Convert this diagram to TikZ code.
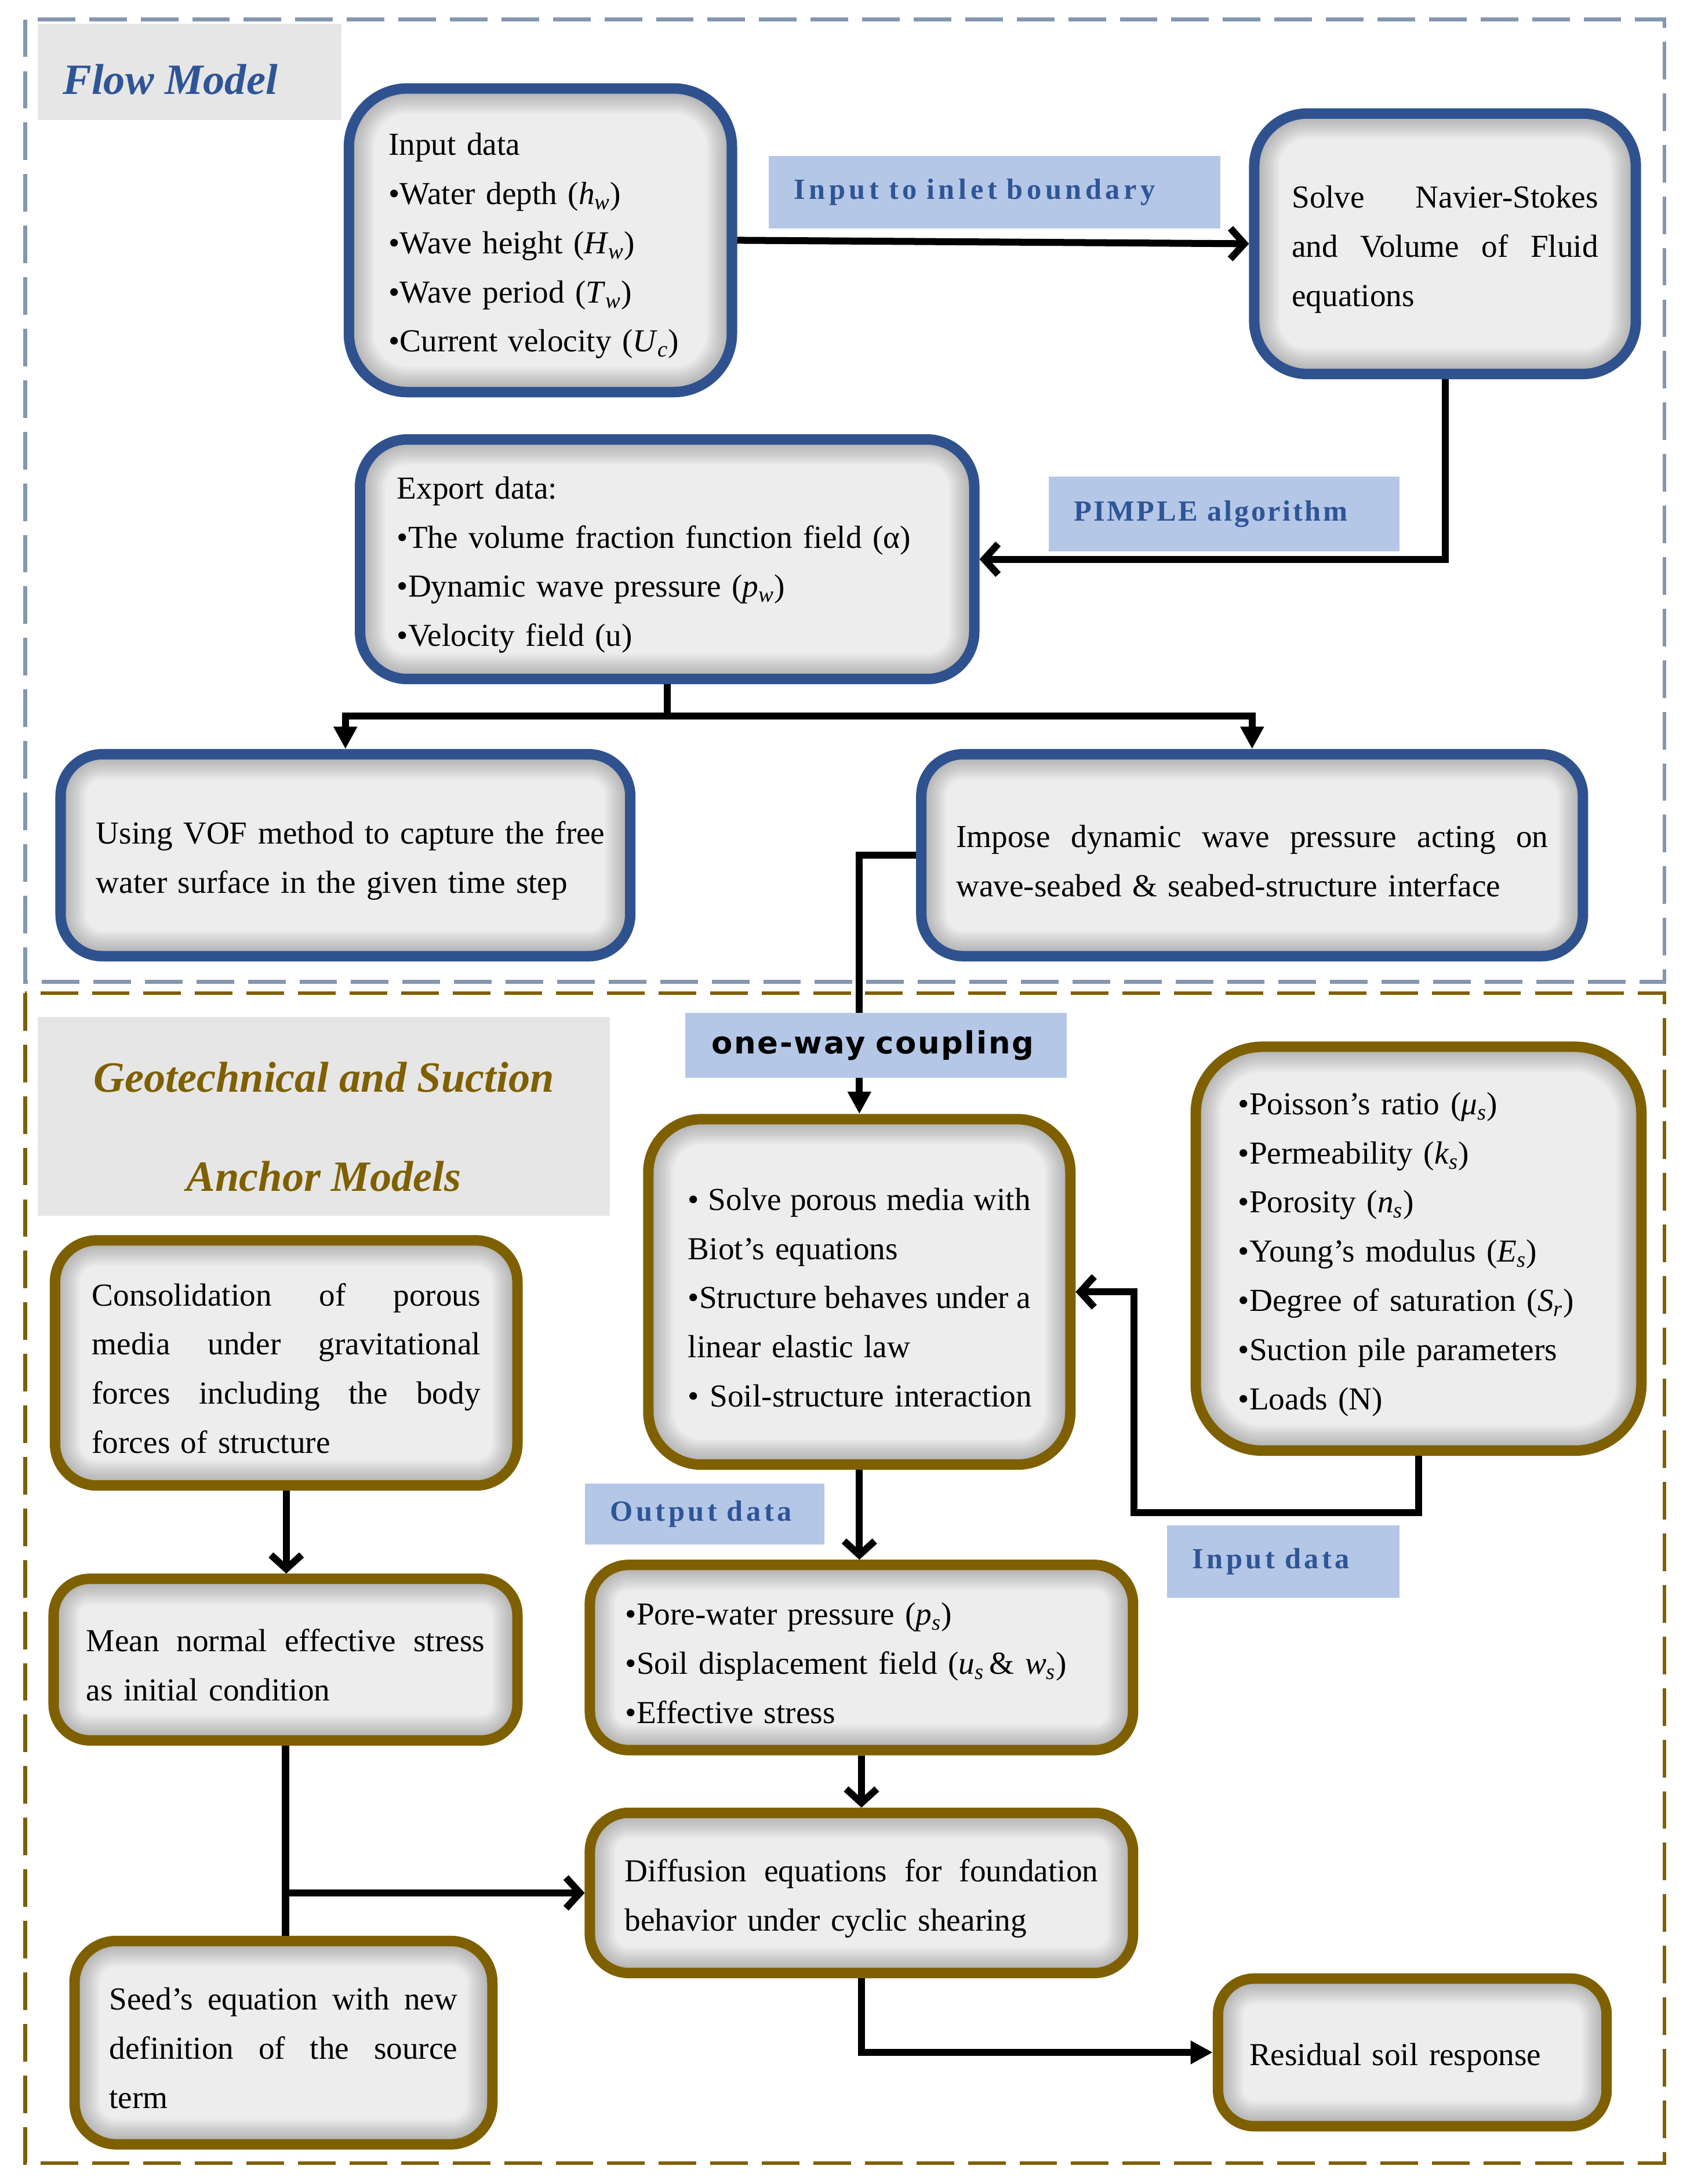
\documentclass[tikz,border=0pt]{standalone}
\usepackage{fontspec}
\setmainfont{Liberation Serif}
\newfontfamily\lblfont{Liberation Serif}
\newfontfamily\cplfont[LetterSpace=5]{DejaVu Sans}
\usetikzlibrary{arrows.meta}
\definecolor{fblue}{HTML}{2F528F}
\definecolor{gbrown}{HTML}{7F6000}
\definecolor{lblfill}{HTML}{B4C7E7}
\definecolor{lbltext}{HTML}{2F5597}
\definecolor{titlefill}{HTML}{E6E6E6}
\definecolor{boxfill}{HTML}{EDEDED}
\definecolor{frameblue}{HTML}{8497B0}

\newcommand{\isub}[2]{\textit{#1}\textsubscript{\textit{#2}}}
\newcommand{\jline}[1]{\leavevmode\hbox to \hsize{\spaceskip=0.25em plus 1fil\relax #1}}

\tikzset{
  ishadow/.style={path picture={
      \foreach \lw in {3,6,...,36}{
        \draw[line width=\lw pt, black, opacity=0.022, rounded corners=#1]
          (path picture bounding box.south west) rectangle (path picture bounding box.north east);}}},
  procbox/.style={rounded corners=#1, fill=boxfill, line width=7.5pt, ishadow=#1,
      font=\fontsize{23}{35.3}\selectfont, align=left, inner sep=0pt, text height=24pt},
  bluebox/.style={procbox=#1, draw=fblue},
  brownbox/.style={procbox=#1, draw=gbrown},
  lbl/.style={fill=lblfill, inner sep=0pt, text=lbltext, align=left,
      font=\lblfont\bfseries\fontsize{21}{24}\selectfont\addfontfeature{LetterSpace=#1}},
  titlebox/.style={fill=titlefill, inner sep=0pt},
  conn/.style={line width=5pt, line join=miter},
  arr/.style={conn, -{Straight Barb[length=10pt,width=22pt]}},
  tarr/.style={conn, -{Triangle[length=16pt,width=16pt]}},
  frame/.style={line width=2.8pt, dash pattern=on 27pt off 10pt},
}

\begin{document}
\begin{tikzpicture}[x=1pt,y=-1pt]
\useasboundingbox (0,0) rectangle (1208,1568);
\fill[white] (0,0) rectangle (1208,1568);

% frames
\draw[frame, frameblue] (18,14) rectangle (1195,705);
\draw[frame, gbrown] (18,713) rectangle (1195,1553);

% titles
\node[titlebox, minimum width=218pt, minimum height=69pt] (ftbox) at (136,51.5) {};
\node[text=lbltext, font=\bfseries\itshape\fontsize{31}{36}\selectfont, inner sep=0pt, anchor=west] (ft) at (45,57) {Flow Model};
\node[titlebox, minimum width=411pt, minimum height=143pt] (gtbox) at (232.5,801.5) {};
\node[text=gbrown, font=\bfseries\itshape\fontsize{31}{71}\selectfont, align=center, inner sep=0pt] (gt) at (232.5,809) {Geotechnical and Suction\\Anchor Models};

% flow model boxes
\node[bluebox=42pt, minimum width=275pt, minimum height=218pt, text width=218pt] (in) at (388,172.5)
 {Input data\\
  •Water depth (\isub{h}{w})\\
  •Wave height (\isub{H}{w})\\
  •Wave period (\isub{T}{w})\\
  •Current velocity (\isub{U}{c})};
\node[bluebox=38pt, minimum width=274pt, minimum height=187pt, text width=220pt] (sol) at (1037.5,175)
 {\jline{Solve Navier-Stokes}\\
  \jline{and Volume of Fluid}\\
  equations};
\node[bluebox=34pt, minimum width=441pt, minimum height=172pt, text width=388pt] (exp) at (479,401.5)
 {Export data:\\
  •The volume fraction function field (α)\\
  •Dynamic wave pressure (\isub{p}{w})\\
  •Velocity field (u)};
\node[bluebox=30pt, minimum width=409pt, minimum height=145pt, text width=358pt] (vof) at (248,614)
 {\mbox{Using VOF method to capture the free}\\
  water surface in the given time step};
\node[bluebox=30pt, minimum width=475pt, minimum height=145pt, text width=425pt] (imp) at (899,614)
 {\jline{Impose dynamic wave pressure acting on}\\
  wave-seabed \& seabed-structure interface};

% geotechnical boxes
\node[brownbox=38pt, minimum width=303pt, minimum height=248pt, text width=246pt] (biot) at (617,927.5)
 {\jline{• Solve porous media with}\\
  Biot’s equations\\
  \jline{•Structure behaves under a}\\
  linear elastic law\\
  \mbox{• Soil-structure interaction}};
\node[brownbox=48pt, minimum width=320pt, minimum height=290pt, text width=259pt] (par) at (1018.5,896.5)
 {•Poisson’s ratio (\isub{μ}{s})\\
  •Permeability (\isub{k}{s})\\
  •Porosity (\isub{n}{s})\\
  •Young’s modulus (\isub{E}{s})\\
  •Degree of saturation (\isub{S}{r})\\
  •Suction pile parameters\\
  •Loads (N)};
\node[brownbox=30pt, minimum width=332pt, minimum height=176pt, text width=279pt] (con) at (205.5,978.5)
 {\jline{Consolidation of porous}\\
  \jline{media under gravitational}\\
  \jline{forces including the body}\\
  forces of structure};
\node[brownbox=26pt, minimum width=333pt, minimum height=116pt, text width=286pt] (mean) at (205,1191.5)
 {\jline{Mean normal effective stress}\\
  as initial condition};
\node[brownbox=28pt, minimum width=390pt, minimum height=133pt, text width=339pt] (pore) at (618.5,1190)
 {•Pore-water pressure (\isub{p}{s})\\
  •Soil displacement field (\isub{u}{s}\,\& \isub{w}{s})\\
  •Effective stress};
\node[brownbox=28pt, minimum width=390pt, minimum height=115pt, text width=340pt] (dif) at (618.5,1359)
 {\jline{Diffusion equations for foundation}\\
  behavior under cyclic shearing};
\node[brownbox=30pt, minimum width=300pt, minimum height=146pt, text width=250pt] (seed) at (203.5,1466.5)
 {\jline{Seed’s equation with new}\\
  \jline{definition of the source}\\
  term};
\node[brownbox=26pt, minimum width=279pt, minimum height=106pt, text width=234pt] (res) at (1014,1473.5)
 {Residual soil response};

% connectors
\draw[arr] (in.east) -- (sol.west);
\draw[arr] (sol.south) |- (exp.east);
\coordinate (split) at (479,514);
\draw[conn] (exp.south) -- (split);
\draw[tarr] (split) -| (vof.north);
\draw[tarr] (split) -| (imp.north);
\draw[tarr] (imp.west) -| (biot.north);
\coordinate (p1) at (1018.5,1086);
\coordinate (p2) at (814,1086);
\draw[arr] (par.south) -- (p1) -- (p2) |- (biot.east);
\draw[arr] (biot.south) -- (biot.south |- pore.north);
\draw[arr] (pore.south) -- (pore.south |- dif.north);
\draw[tarr] (dif.south) |- (res.west);
\draw[arr] (con.south) -- (con.south |- mean.north);
\draw[conn] (mean.south) -- (mean.south |- seed.north);
\coordinate (br) at (mean.south |- dif.west);
\draw[arr] (br) -- (dif.west);

% labels
\node[lbl=13, minimum width=324pt, minimum height=52pt, text width=288pt] (l1) at (714,138) {Input to inlet boundary};
\node[lbl=7, minimum width=252pt, minimum height=54pt, text width=216pt] (l2) at (879,369) {PIMPLE algorithm};
\node[fill=lblfill, inner sep=0pt, minimum width=274pt, minimum height=47pt, text width=236pt, align=left,
      font=\cplfont\bfseries\fontsize{22}{26}\selectfont] (l3) at (629,750.5) {one-way coupling};
\node[lbl=11, minimum width=172pt, minimum height=44pt, text width=136pt] (l4) at (506,1087) {Output data};
\node[lbl=11, minimum width=167pt, minimum height=52pt, text width=131pt] (l5) at (921.5,1121) {Input data};
\end{tikzpicture}
\end{document}
